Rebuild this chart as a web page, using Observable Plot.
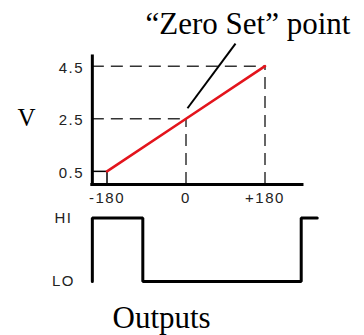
<!DOCTYPE html>
<html><head><meta charset="utf-8">
<script src="https://cdn.jsdelivr.net/npm/d3@7"></script>
<script src="https://cdn.jsdelivr.net/npm/@observablehq/plot@0.6"></script>
<style>
html,body{margin:0;padding:0;background:#fff;}
#chart{width:364px;height:335px;}
#chart svg{display:block;}
#chart g[aria-label$="tick label"]{font-family:'Liberation Sans',Arial,sans-serif;font-size:15px;letter-spacing:1.5px;fill:#222;}
</style></head><body><div id="chart"></div>
<script>
// data
const angles = [-180, 0, 180];
const angleLabels = ["-180", "0", "+180"];
const volts = [0.5, 2.5, 4.5];
const voltLabels = ["0.5", "2.5", "4.5"];
const axisX0 = -213.4, axisX1 = 265.4, vTop = 4.87;
const outX = [-213.4, -213.4, -98.4, -98.4, 262.5, 262.5, 299];
const outLevel = [0, 1, 1, 0, 0, 1, 1];
const levelLabels = ["LO", "HI"];
const leaderX = [3.4, 112.8];
const leaderY = [2.9, 5.36];
const title = "\u201CZero Set\u201D point";
const yLabel = "V";
const caption = "Outputs";

const serif = "'Liberation Serif','Times New Roman',serif";
const xScale = {domain: [-180, 180], range: [106.5, 264.5]};
const common = {
  width: 364, marginLeft: 92, marginRight: 62,
  style: {background: "#fff", color: "#000", overflow: "visible"}
};
const idx = n => d3.range(n);
const dash = {stroke: "#333", strokeWidth: 1.5, strokeDasharray: "12,7"};

const p1 = Plot.plot({
  ...common, height: 205, marginTop: 56, marginBottom: 21,
  x: xScale,
  y: {domain: [0, 4.5], range: [184, 65.7]},
  marks: [
    Plot.ruleY([1, 2], {y: i => volts[i], x1: () => axisX0, x2: i => angles[i], ...dash}),
    Plot.ruleX([1, 2], {x: i => angles[i], y1: () => 0, y2: i => volts[i], ...dash}),
    Plot.ruleY([0], {y: i => volts[i], x1: () => axisX0, x2: i => angles[i], stroke: "#000", strokeWidth: 1.5}),
    Plot.ruleX([0], {x: i => angles[i], y1: () => 0, y2: i => volts[i], stroke: "#000", strokeWidth: 1.5}),
    Plot.line(idx(angles.length), {x: i => angles[i], y: i => volts[i], stroke: "#e3141c", strokeWidth: 2.6}),
    Plot.ruleY([0], {x1: () => axisX0, x2: () => axisX1, stroke: "#000", strokeWidth: 3, strokeLinecap: "square"}),
    Plot.ruleX([axisX0], {y1: () => 0, y2: () => vTop, stroke: "#000", strokeWidth: 3, strokeLinecap: "square"}),
    Plot.link([0], {x1: () => leaderX[0], y1: () => leaderY[0], x2: () => leaderX[1], y2: () => leaderY[1], stroke: "#000", strokeWidth: 2}),
    Plot.axisX({ticks: angles, tickFormat: d => angleLabels[angles.indexOf(d)], tickSize: 0, tickPadding: 7.5, anchor: "bottom", label: null}),
    Plot.axisY({ticks: volts, tickFormat: d => voltLabels[volts.indexOf(d)], tickSize: 0, tickPadding: 8.5, anchor: "left", label: null, dy: 1.5}),
    Plot.text([yLabel], {y: () => volts[1], frameAnchor: "left", dx: -66, dy: -1, textAnchor: "middle", fontSize: 25, fontFamily: serif, fill: "#000"}),
    Plot.text([title], {frameAnchor: "top-left", dx: 53, dy: -23, lineAnchor: "bottom", textAnchor: "start", fontSize: 31, fontFamily: serif, fill: "#000"})
  ]
});

const p2 = Plot.plot({
  ...common, height: 130, marginTop: 12.5, marginBottom: 54,
  x: {...xScale, axis: null},
  y: {domain: [0, 1], range: [76, 12.5]},
  marks: [
    Plot.line(idx(outX.length), {x: i => outX[i], y: i => outLevel[i], stroke: "#000", strokeWidth: 3, strokeLinejoin: "miter"}),
    Plot.axisY({ticks: [0, 1], tickFormat: d => levelLabels[d], tickSize: 0, tickPadding: 29, textAnchor: "middle", anchor: "left", label: null}),
    Plot.text([caption], {frameAnchor: "bottom-left", dx: 20, dy: 46, lineAnchor: "bottom", textAnchor: "start", fontSize: 31, fontFamily: serif, fill: "#000"})
  ]
});

const el = document.getElementById("chart");
el.append(p1, p2);
</script></body></html>
